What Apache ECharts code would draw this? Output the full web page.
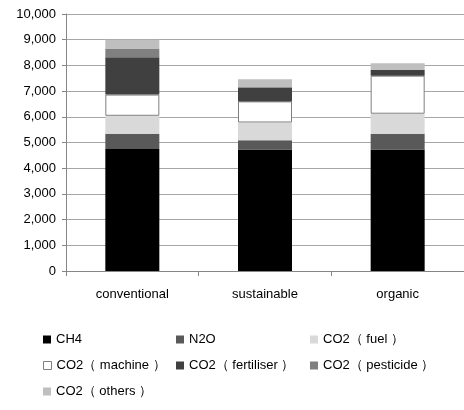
<!DOCTYPE html>
<html>
<head>
<meta charset="utf-8">
<script src="https://cdn.jsdelivr.net/npm/echarts@6/dist/echarts.min.js"></script>
<style>html,body{margin:0;padding:0;background:#fff}#c{width:464px;height:410px}</style>
</head>
<body>
<div id="c"></div>
<script>
const categories = ['conventional', 'sustainable', 'organic'];
const seriesNames = ['CH4', 'N2O', 'CO2（ fuel ）', 'CO2（ machine ）', 'CO2（ fertiliser ）', 'CO2（ pesticide ）', 'CO2（ others ）'];
const ch4 = [4750, 4730, 4730];
const n2o = [590, 360, 610];
const co2Fuel = [700, 690, 780];
const co2Machine = [825, 820, 1480];
const co2Fertiliser = [1455, 530, 220];
const co2Pesticide = [340, 30, 0];
const co2Others = [340, 300, 260];
const yTicks = [0, 10000, 1000];

const values = [ch4, n2o, co2Fuel, co2Machine, co2Fertiliser, co2Pesticide, co2Others];
const colors = ['#000000', '#595959', '#d9d9d9', '#ffffff', '#404040', '#808080', '#bfbfbf'];
const FONT = 'Liberation Sans';

const series = seriesNames.map((n, i) => ({
  name: n,
  type: 'bar',
  stack: 'total',
  barWidth: 54,
  data: values[i],
  itemStyle: i === 3 ? { color: '#ffffff', borderColor: '#7f7f7f', borderWidth: 1 } : { color: colors[i] },
  emphasis: { disabled: true }
}));

const legendPos = [[43, 333], [176, 333], [310, 333], [43, 359], [176, 359], [310, 359], [43, 385]];
const legends = seriesNames.map((n, i) => ({
  data: [{ name: n, itemStyle: i === 3 ? { color: '#fff', borderColor: '#7f7f7f', borderWidth: 1 } : undefined }],
  left: legendPos[i][0], top: legendPos[i][1],
  orient: 'horizontal',
  icon: 'rect', itemWidth: 8, itemHeight: 8, itemGap: 4, padding: 0,
  textStyle: { fontFamily: FONT, fontSize: 13, color: '#000' },
  selectedMode: false
}));

const chart = echarts.init(document.getElementById('c'));
chart.setOption({
  animation: false,
  color: colors,
  grid: { left: 66, right: -2, top: 14, bottom: 139, containLabel: false },
  legend: legends,
  xAxis: {
    type: 'category',
    data: categories,
    axisLine: { lineStyle: { color: '#868686', width: 1 } },
    axisTick: { show: true, length: 5, interval: 0, lineStyle: { color: '#868686' } },
    axisLabel: { fontFamily: FONT, fontSize: 13, color: '#000', margin: 17, interval: 0 }
  },
  yAxis: {
    type: 'value',
    min: yTicks[0], max: yTicks[1], interval: yTicks[2],
    axisLine: { show: true, lineStyle: { color: '#868686', width: 1 } },
    axisTick: { show: true, length: 4, lineStyle: { color: '#868686' } },
    axisLabel: {
      fontFamily: FONT, fontSize: 13, color: '#000', margin: 10,
      formatter: v => v.toLocaleString('en-US')
    },
    splitLine: { lineStyle: { color: '#a6a6a6', width: 1 } }
  },
  series: series
});
</script>
</body>
</html>
